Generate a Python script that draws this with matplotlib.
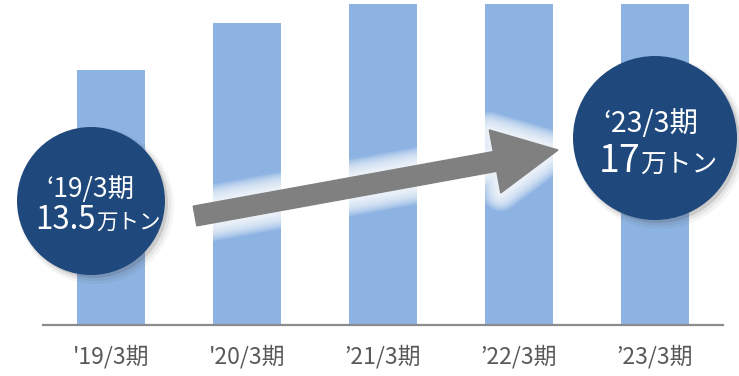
import matplotlib
matplotlib.use("Agg")
import matplotlib.pyplot as plt
from matplotlib.patches import Circle, FancyArrow
import matplotlib.patheffects as pe

plt.rcParams['font.family'] = ['Noto Sans CJK JP', 'DejaVu Sans']

# ---- data ----
categories = ["'19/3期", "'20/3期", "’21/3期", "’22/3期", "’23/3期"]
values = [13.5, 16.0, 17.0, 17.0, 17.0]
start_label = "‘19/3期"
start_value = "13.5"
end_label = "‘23/3期"
end_value = "17"
unit = "万トン"

W, H = 739, 376
fig = plt.figure(figsize=(W / 100, H / 100), dpi=100)
fig.patch.set_facecolor('white')

ax = fig.add_axes([43 / W, 51 / H, 680 / W, 325 / H])
x = list(range(len(categories)))
ax.bar(x, values, width=0.5, color='#8DB3E2', zorder=2)
ax.set_xlim(-0.5, len(categories) - 0.5)
ax.set_ylim(0, 17.21)
for s in ['top', 'right', 'left']:
    ax.spines[s].set_visible(False)
ax.spines['bottom'].set_color('#8c8c8c')
ax.spines['bottom'].set_linewidth(1.6)
ax.set_yticks([])
ax.set_xticks(x)
ax.set_xticklabels(categories, fontsize=16.5, color='#595959')
ax.tick_params(axis='x', length=0, pad=14)
ax.patch.set_alpha(0)

# top-left cropped caption (mostly off canvas)
fig.text(0.0, 1 - 2.5 / H, "販売数量（万トン）", fontsize=11.5, color='black',
         ha='left', va='bottom')

# ---- overlay in pixel coordinates ----
ov = fig.add_axes([0, 0, 1, 1], zorder=3)
ov.set_xlim(0, W)
ov.set_ylim(H, 0)
ov.axis('off')
ov.patch.set_alpha(0)

# arrow with soft white glow
arr = FancyArrow(195, 216, 363, -66, width=20, head_width=64, head_length=64,
                 length_includes_head=True, color='#808080', zorder=4)
effects = []
for lw in range(26, 1, -2):
    effects.append(pe.Stroke(linewidth=lw, foreground='white', alpha=0.14,
                             joinstyle='round'))
effects.append(pe.Normal())
arr.set_path_effects(effects)
ov.add_patch(arr)

navy = '#1F487C'

def bubble(cx, cy, r):
    for dr, off, a in [(4, 5, 0.05), (2, 4, 0.08), (0, 3, 0.16)]:
        ov.add_patch(Circle((cx + off, cy + off), r + dr, color='#404040',
                            alpha=a, lw=0, zorder=5))
    ov.add_patch(Circle((cx, cy), r, color=navy, lw=0, zorder=6))

bubble(91, 201, 74)
bubble(655, 138, 82)

# left bubble text
ov.text(90, 197, start_label, fontsize=19, color='white', ha='center',
        va='baseline', zorder=7)
ov.text(96, 229, start_value, fontsize=22.5, color='white', ha='right',
        va='baseline', zorder=7)
ov.text(96, 229, unit, fontsize=15.5, color='white', ha='left',
        va='baseline', zorder=7)

# right bubble text
ov.text(651, 132, end_label, fontsize=20.5, color='white', ha='center',
        va='baseline', zorder=7)
ov.text(640, 172, end_value, fontsize=27, color='white', ha='right',
        va='baseline', zorder=7)
ov.text(640, 172, unit, fontsize=18.5, color='white', ha='left',
        va='baseline', zorder=7)

fig.savefig('out.png', dpi=100, facecolor='white')
